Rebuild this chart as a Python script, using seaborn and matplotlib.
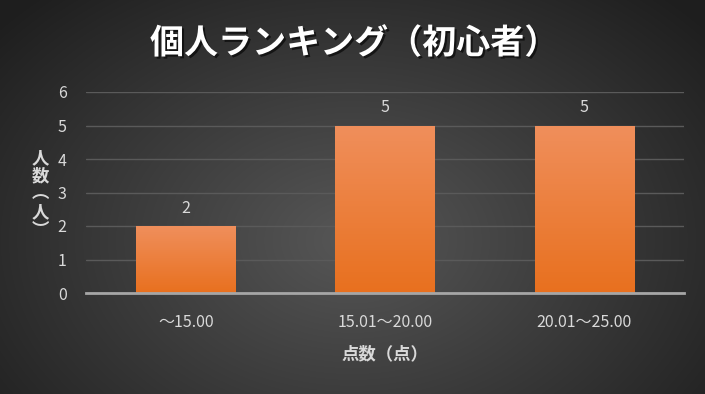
import numpy as np
import pandas as pd
import matplotlib
matplotlib.use("Agg")
import matplotlib.pyplot as plt
import matplotlib.patheffects as pe
import seaborn as sns

# chart data
categories = ["～15.00", "15.01～20.00", "20.01～25.00"]
counts = [2, 5, 5]
title = "個人ランキング（初心者）"
x_label = "点数（点）"
y_label = "人\n数\n︵\n人\n︶"

sns.set_theme(style="dark")
plt.rcParams['font.family'] = ['Noto Sans CJK JP', 'DejaVu Sans']

df = pd.DataFrame({"range": categories, "count": counts})

fig = plt.figure(figsize=(7.05, 3.94), dpi=100)

# radial dark background
bg = fig.add_axes([0, 0, 1, 1], zorder=-10)
yy, xx = np.mgrid[0:394, 0:705]
r = np.sqrt(((xx - 352) / 420.0) ** 2 + ((yy - 240) / 300.0) ** 2)
shade = np.clip(0.34 - 0.2 * r, 0.12, 0.34)
bg.imshow(np.dstack([shade] * 3), aspect="auto", extent=[0, 1, 0, 1])
bg.set_axis_off()

ax = fig.add_axes([86 / 705, 101 / 394, 598 / 705, 201 / 394])
ax.patch.set_alpha(0)
sns.barplot(data=df, x="range", y="count", color="#F07F2A", width=0.5,
            saturation=1, ax=ax)

# orange vertical gradient on each bar
grad = np.linspace(0, 1, 256).reshape(-1, 1)
top = np.array([0.94, 0.56, 0.36])
bot = np.array([0.91, 0.44, 0.12])
img = top * (1 - grad[..., None]) + bot * grad[..., None]
for p in ax.patches:
    x0, y0 = p.get_x(), p.get_y()
    w, h = p.get_width(), p.get_height()
    p.set_facecolor("none")
    p.set_edgecolor("none")
    im = ax.imshow(img, extent=[x0, x0 + w, y0, y0 + h], aspect="auto",
                   zorder=2)
    im.set_clip_path(p)

for i, v in enumerate(counts):
    ax.text(i, v + 0.28, str(v), ha="center", va="bottom", color="#D9D9D9",
            fontsize=11.5)

ax.set_xlim(-0.5, 2.5)
ax.set_ylim(0, 6)
ax.set_yticks(range(0, 7))
ax.yaxis.grid(True, color="#5A5A5A", linewidth=1)
ax.xaxis.grid(False)
ax.set_axisbelow(True)
for s in ["top", "right", "left"]:
    ax.spines[s].set_visible(False)
ax.spines["bottom"].set_color("#A6A6A6")
ax.spines["bottom"].set_linewidth(2)
ax.tick_params(axis="both", colors="#D9D9D9", labelsize=11.5, length=0)
ax.tick_params(axis="x", pad=15)
ax.tick_params(axis="y", pad=14)
ax.set_xlabel("")
ax.set_ylabel("")

fig.text(385 / 705, 1 - 354 / 394, x_label, ha="center", va="center",
         color="#D9D9D9", fontsize=12.5, fontweight="bold")
fig.text(40 / 705, 1 - 194 / 394, y_label, ha="center", va="center",
         color="#D9D9D9", fontsize=12.5, fontweight="bold", linespacing=1.0)

fig.text(354 / 705, 1 - 43 / 394, title, ha="center", va="center",
         color="white", fontsize=24.5, fontweight="bold",
         path_effects=[pe.withSimplePatchShadow(offset=(1.5, -1.5),
                                                shadow_rgbFace="black",
                                                alpha=0.6)])

fig.savefig("out.png", dpi=100)
